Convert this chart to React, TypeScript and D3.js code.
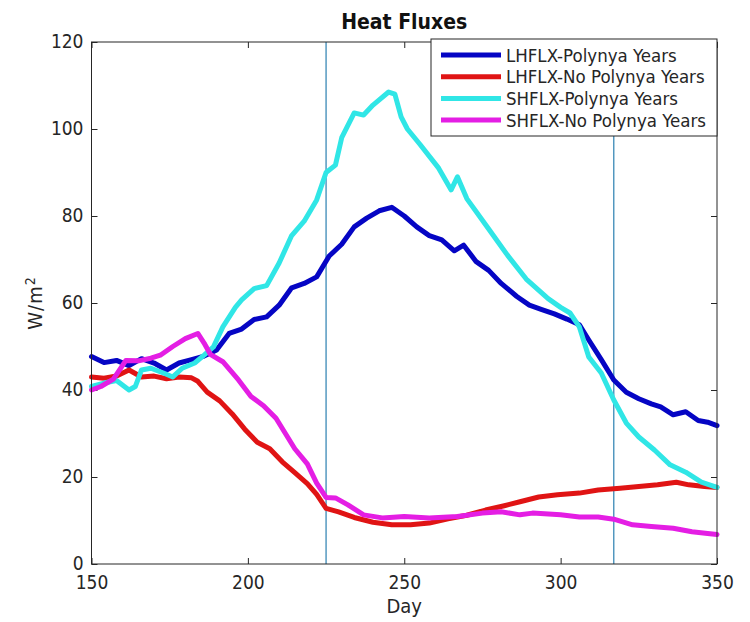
import { useEffect, useRef } from "react";
import * as d3 from "d3";

// [day, W/m2]
const lhPolynya: [number, number][] = [
  [150, 47.7], [154, 46.3], [158, 46.8], [162, 45.6], [166, 47.2], [170, 46.2], [174, 44.6],
  [178, 46.2], [182, 47.0], [186, 47.8], [190, 49.2], [194, 53.0], [198, 54.0], [202, 56.2],
  [206, 56.8], [210, 59.5], [214, 63.5], [218, 64.5], [222, 66.0], [226, 70.8], [230, 73.5],
  [234, 77.5], [238, 79.5], [242, 81.2], [246, 82.0], [250, 80.0], [254, 77.5], [258, 75.5],
  [262, 74.5], [266, 72.0], [269, 73.3], [273, 69.5], [277, 67.5], [281, 64.5], [286, 61.5],
  [290, 59.5], [294, 58.5], [298, 57.5], [302, 56.3], [306, 55.0], [309, 51.5], [313, 47.0],
  [317, 42.3], [321, 39.5], [325, 38.0], [329, 36.8], [332, 36.1], [336, 34.3], [340, 35.0],
  [344, 33.0], [347, 32.6], [350, 31.8],
];

const lhNoPolynya: [number, number][] = [
  [150, 43.0], [154, 42.7], [158, 43.2], [162, 44.6], [166, 43.0], [170, 43.2], [174, 42.6],
  [178, 43.0], [182, 42.8], [184, 42.0], [187, 39.5], [191, 37.5], [195, 34.5], [199, 31.0],
  [203, 28.0], [207, 26.5], [211, 23.5], [215, 21.0], [219, 18.5], [222, 16.0], [225, 12.8],
  [229, 12.0], [234, 10.7], [240, 9.6], [246, 9.0], [252, 9.0], [258, 9.4], [264, 10.4],
  [270, 11.2], [276, 12.4], [282, 13.4], [287, 14.3], [293, 15.4], [299, 15.9], [306, 16.3],
  [312, 17.0], [319, 17.4], [325, 17.8], [331, 18.2], [337, 18.8], [341, 18.2], [346, 17.8],
  [350, 17.6],
];

const shPolynya: [number, number][] = [
  [150, 40.8], [154, 41.6], [158, 42.2], [162, 40.0], [164, 40.8], [166, 44.6], [169, 45.0],
  [173, 43.9], [176, 43.0], [179, 45.0], [183, 46.2], [186, 48.0], [189, 49.9], [192, 54.5],
  [196, 59.0], [198, 60.7], [202, 63.3], [206, 64.0], [210, 69.2], [214, 75.5], [218, 78.8],
  [222, 83.7], [225, 90.0], [228, 91.7], [230, 98.0], [234, 103.7], [237, 103.2], [240, 105.5],
  [245, 108.5], [247, 108.0], [249, 102.8], [251, 100.0], [255, 96.5], [261, 91.0],
  [265, 86.0], [267, 89.0], [270, 84.0], [277, 77.0], [283, 71.0], [289, 65.5], [296, 61.0],
  [300, 59.0], [303, 57.7], [306, 54.5], [309, 47.6], [313, 43.9], [317, 37.7], [321, 32.4],
  [325, 29.2], [330, 26.2], [335, 22.8], [340, 21.1], [345, 18.8], [350, 17.6],
];

const shNoPolynya: [number, number][] = [
  [150, 40.0], [153, 40.8], [157, 42.5], [161, 46.8], [165, 46.7], [169, 47.3], [172, 48.0],
  [176, 50.0], [180, 51.8], [184, 53.0], [186, 50.8], [188, 48.2], [192, 46.5], [197, 42.3],
  [201, 38.5], [205, 36.4], [209, 33.5], [212, 30.0], [215, 26.5], [219, 23.0], [222, 18.6],
  [225, 15.3], [228, 15.2], [232, 13.6], [237, 11.3], [243, 10.6], [250, 10.9], [258, 10.6],
  [267, 10.9], [275, 11.7], [281, 12.0], [287, 11.3], [291, 11.7], [300, 11.3], [306, 10.8],
  [312, 10.8], [317, 10.3], [323, 9.0], [329, 8.6], [336, 8.2], [342, 7.4], [347, 7.0],
  [350, 6.8],
];

const seriesNames = [
  "LHFLX-Polynya Years",
  "LHFLX-No Polynya Years",
  "SHFLX-Polynya Years",
  "SHFLX-No Polynya Years",
];
const seriesColors = ["#0505c4", "#e01414", "#30e6e6", "#e41ee4"];
const seriesData = [lhPolynya, lhNoPolynya, shPolynya, shNoPolynya];

const markerDays = [225, 317];
const xTicks = [150, 200, 250, 300, 350];
const yTicks = [0, 20, 40, 60, 80, 100, 120];

const FONT = "'DejaVu Sans Condensed', 'DejaVu Sans', sans-serif";

const App = () => {
  const svgRef = useRef<SVGSVGElement | null>(null);

  useEffect(() => {
    const W = 750;
    const H = 622;
    const M = { top: 42, right: 33, bottom: 58, left: 91.5 };

    const svg = d3.select(svgRef.current).attr("width", W).attr("height", H);
    svg.selectAll("*").remove();

    const x = d3.scaleLinear().domain([150, 350]).range([M.left, W - M.right]);
    const y = d3.scaleLinear().domain([0, 120]).range([H - M.bottom, M.top]);

    svg.append("rect").attr("width", W).attr("height", H).attr("fill", "#fff");

    const axisColor = "#262626";

    // ticks (inward, all sides)
    const axB = svg
      .append("g")
      .attr("transform", `translate(0,${y(0)})`)
      .call(d3.axisBottom(x).tickValues(xTicks).tickSize(-6).tickSizeOuter(0).tickPadding(9));
    const axT = svg
      .append("g")
      .attr("transform", `translate(0,${y(120)})`)
      .call(d3.axisTop(x).tickValues(xTicks).tickSize(-6).tickSizeOuter(0).tickFormat(() => ""));
    const axL = svg
      .append("g")
      .attr("transform", `translate(${x(150)},0)`)
      .call(d3.axisLeft(y).tickValues(yTicks).tickSize(-6).tickSizeOuter(0).tickPadding(8));
    const axR = svg
      .append("g")
      .attr("transform", `translate(${x(350)},0)`)
      .call(d3.axisRight(y).tickValues(yTicks).tickSize(-6).tickSizeOuter(0).tickFormat(() => ""));

    [axB, axT, axL, axR].forEach((g) => {
      g.select(".domain").remove();
      g.selectAll("line").attr("stroke", axisColor);
      g.selectAll("text")
        .attr("fill", axisColor)
        .style("font-family", FONT)
        .style("font-size", "19px");
    });
    axB.selectAll("text").attr("dy", "0.85em");
    axL.selectAll("text").attr("dy", "0.3em");

    // vertical markers
    svg
      .selectAll(".marker")
      .data(markerDays)
      .enter()
      .append("line")
      .attr("x1", (d) => x(d))
      .attr("x2", (d) => x(d))
      .attr("y1", y(0))
      .attr("y2", y(120))
      .attr("stroke", "#2a7fb0")
      .attr("stroke-width", 1.2);

    const line = d3
      .line<[number, number]>()
      .x((d) => x(d[0]))
      .y((d) => y(d[1]));

    svg
      .selectAll(".series")
      .data(seriesData)
      .enter()
      .append("path")
      .attr("d", (d) => line(d))
      .attr("fill", "none")
      .attr("stroke", (_, i) => seriesColors[i])
      .attr("stroke-width", 5)
      .attr("stroke-linejoin", "round")
      .attr("stroke-linecap", "round");

    // box
    svg
      .append("rect")
      .attr("x", x(150))
      .attr("y", y(120))
      .attr("width", x(350) - x(150))
      .attr("height", y(0) - y(120))
      .attr("fill", "none")
      .attr("stroke", axisColor)
      .attr("stroke-width", 1);

    // legend
    const lg = svg.append("g");
    lg.append("rect")
      .attr("x", 431)
      .attr("y", 39)
      .attr("width", 286)
      .attr("height", 97)
      .attr("fill", "#fff")
      .attr("stroke", axisColor)
      .attr("stroke-width", 1);
    seriesNames.forEach((name, i) => {
      const cy = 55 + i * 21.7;
      lg.append("line")
        .attr("x1", 441)
        .attr("x2", 501)
        .attr("y1", cy)
        .attr("y2", cy)
        .attr("stroke", seriesColors[i])
        .attr("stroke-width", 5);
      lg.append("text")
        .attr("x", 506)
        .attr("y", cy)
        .attr("dy", "0.36em")
        .attr("fill", axisColor)
        .style("font-family", FONT)
        .style("font-size", "18.5px")
        .text(name);
    });

    // title and labels
    svg
      .append("text")
      .attr("x", (x(150) + x(350)) / 2)
      .attr("y", 29)
      .attr("text-anchor", "middle")
      .attr("fill", "#111")
      .style("font-family", FONT)
      .style("font-weight", "bold")
      .style("font-size", "21px")
      .text("Heat Fluxes");

    svg
      .append("text")
      .attr("x", (x(150) + x(350)) / 2)
      .attr("y", 613)
      .attr("text-anchor", "middle")
      .attr("fill", axisColor)
      .style("font-family", FONT)
      .style("font-size", "20px")
      .text("Day");

    const yl = svg
      .append("text")
      .attr("transform", `translate(42,${(y(0) + y(120)) / 2}) rotate(-90)`)
      .attr("text-anchor", "middle")
      .attr("fill", axisColor)
      .style("font-family", FONT)
      .style("font-size", "20px")
      .style("letter-spacing", "1px");
    yl.append("tspan").text("W/m");
    yl.append("tspan").attr("dy", "-0.5em").style("font-size", "14px").text("2");
  }, []);

  return <svg ref={svgRef} style={{ display: "block", position: "absolute", left: 0, top: 0 }} />;
};

export default App;
